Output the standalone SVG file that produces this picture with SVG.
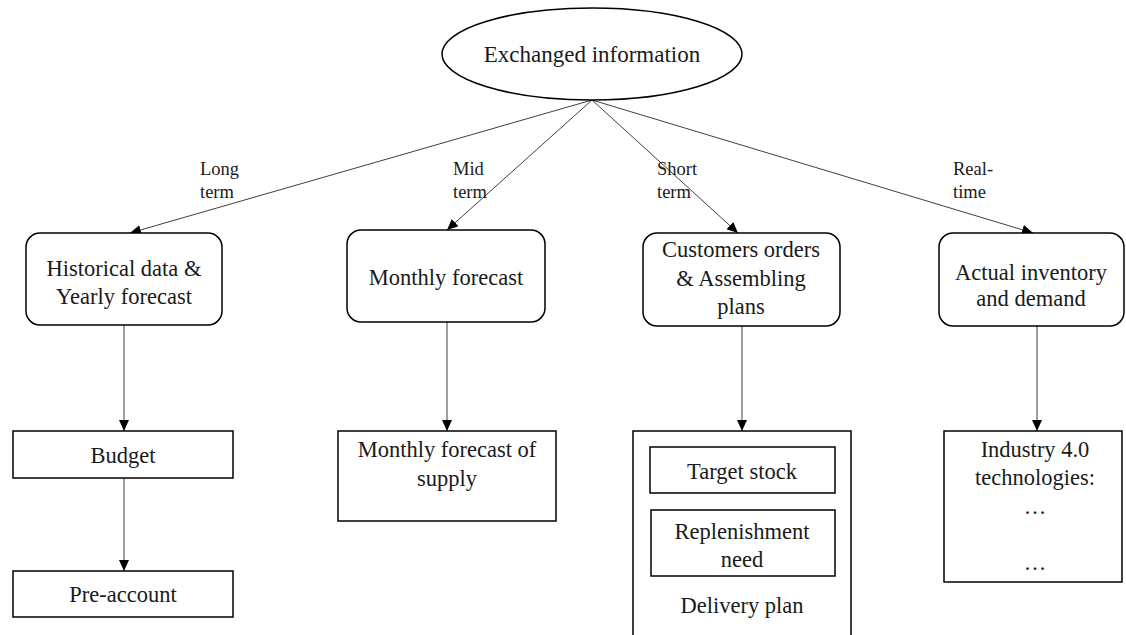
<svg xmlns="http://www.w3.org/2000/svg" width="1126" height="635" viewBox="0 0 1126 635">
  <style>
    .box { fill: #ffffff; stroke: #000000; stroke-width: 1.5; }
    .t { font-family: "Liberation Serif", "Times New Roman", serif; fill: #1a1a1a; text-anchor: middle; }
    .big { font-size: 22.5px; }
    .title { font-size: 23px; }
    .lbl { font-size: 18.5px; text-anchor: start; }
    .conn { stroke: #404040; stroke-width: 1; fill: none; marker-end: url(#arr); }
  </style>
  <defs>
    <marker id="arr" markerWidth="12" markerHeight="10" refX="11" refY="5" orient="auto" markerUnits="userSpaceOnUse">
      <path d="M0,0 L11,5 L0,10 Z" fill="#000000"/>
    </marker>
  </defs>
  <rect width="1126" height="635" fill="#ffffff"/>

  <!-- connectors -->
  <g id="connectors">
    <line class="conn" x1="592" y1="100" x2="130" y2="233"/>
    <line class="conn" x1="592" y1="100" x2="447" y2="230"/>
    <line class="conn" x1="592" y1="100" x2="738" y2="233"/>
    <line class="conn" x1="592" y1="100" x2="1033" y2="233"/>
    <line class="conn" x1="124" y1="325" x2="124" y2="431"/>
    <line class="conn" x1="124" y1="478" x2="124" y2="571"/>
    <line class="conn" x1="447" y1="322" x2="447" y2="431"/>
    <line class="conn" x1="742" y1="326" x2="742" y2="431"/>
    <line class="conn" x1="1037" y1="326" x2="1037" y2="431"/>
    <text class="t lbl" x="200" y="175">Long</text>
    <text class="t lbl" x="200" y="198">term</text>
    <text class="t lbl" x="453" y="175">Mid</text>
    <text class="t lbl" x="453" y="198">term</text>
    <text class="t lbl" x="657" y="175">Short</text>
    <text class="t lbl" x="657" y="198">term</text>
    <text class="t lbl" x="953" y="175">Real-</text>
    <text class="t lbl" x="953" y="198">time</text>
  </g>

  <g id="exchanged-information">
    <ellipse class="box" cx="592" cy="54" rx="150" ry="46"/>
    <text class="t title" x="592" y="62">Exchanged information</text>
  </g>

  <g id="historical-data">
    <rect class="box" x="26" y="233" width="196" height="92" rx="14"/>
    <text class="t big" x="124" y="276">Historical data &amp;</text>
    <text class="t big" x="124" y="304">Yearly forecast</text>
  </g>

  <g id="monthly-forecast">
    <rect class="box" x="347" y="230" width="198" height="92" rx="14"/>
    <text class="t big" x="446" y="285">Monthly forecast</text>
  </g>

  <g id="customers-orders">
    <rect class="box" x="643" y="233" width="197" height="93" rx="14"/>
    <text class="t big" x="741" y="257">Customers orders</text>
    <text class="t big" x="741" y="286">&amp; Assembling</text>
    <text class="t big" x="741" y="314">plans</text>
  </g>

  <g id="actual-inventory">
    <rect class="box" x="939" y="233" width="185" height="93" rx="14"/>
    <text class="t big" x="1031" y="280">Actual inventory</text>
    <text class="t big" x="1031" y="306">and demand</text>
  </g>

  <g id="budget">
    <rect class="box" x="13" y="431" width="220" height="47"/>
    <text class="t big" x="123" y="463">Budget</text>
  </g>

  <g id="pre-account">
    <rect class="box" x="13" y="571" width="220" height="46"/>
    <text class="t big" x="123" y="602">Pre-account</text>
  </g>

  <g id="monthly-supply">
    <rect class="box" x="338" y="431" width="218" height="90"/>
    <text class="t big" x="447" y="457">Monthly forecast of</text>
    <text class="t big" x="447" y="486">supply</text>
  </g>

  <g id="delivery-plan">
    <rect class="box" x="633" y="431" width="218" height="210"/>
    <text class="t big" x="742" y="613">Delivery plan</text>
  </g>

  <g id="target-stock">
    <rect class="box" x="650" y="447" width="185" height="46"/>
    <text class="t big" x="742" y="479">Target stock</text>
  </g>

  <g id="replenishment-need">
    <rect class="box" x="651" y="510" width="184" height="66"/>
    <text class="t big" x="742" y="539">Replenishment</text>
    <text class="t big" x="742" y="567">need</text>
  </g>

  <g id="industry-tech">
    <rect class="box" x="944" y="431" width="178" height="151"/>
    <text class="t big" x="1035" y="457">Industry 4.0</text>
    <text class="t big" x="1035" y="485">technologies:</text>
    <text class="t big" x="1035" y="514">…</text>
    <text class="t big" x="1035" y="570">…</text>
  </g>
</svg>
